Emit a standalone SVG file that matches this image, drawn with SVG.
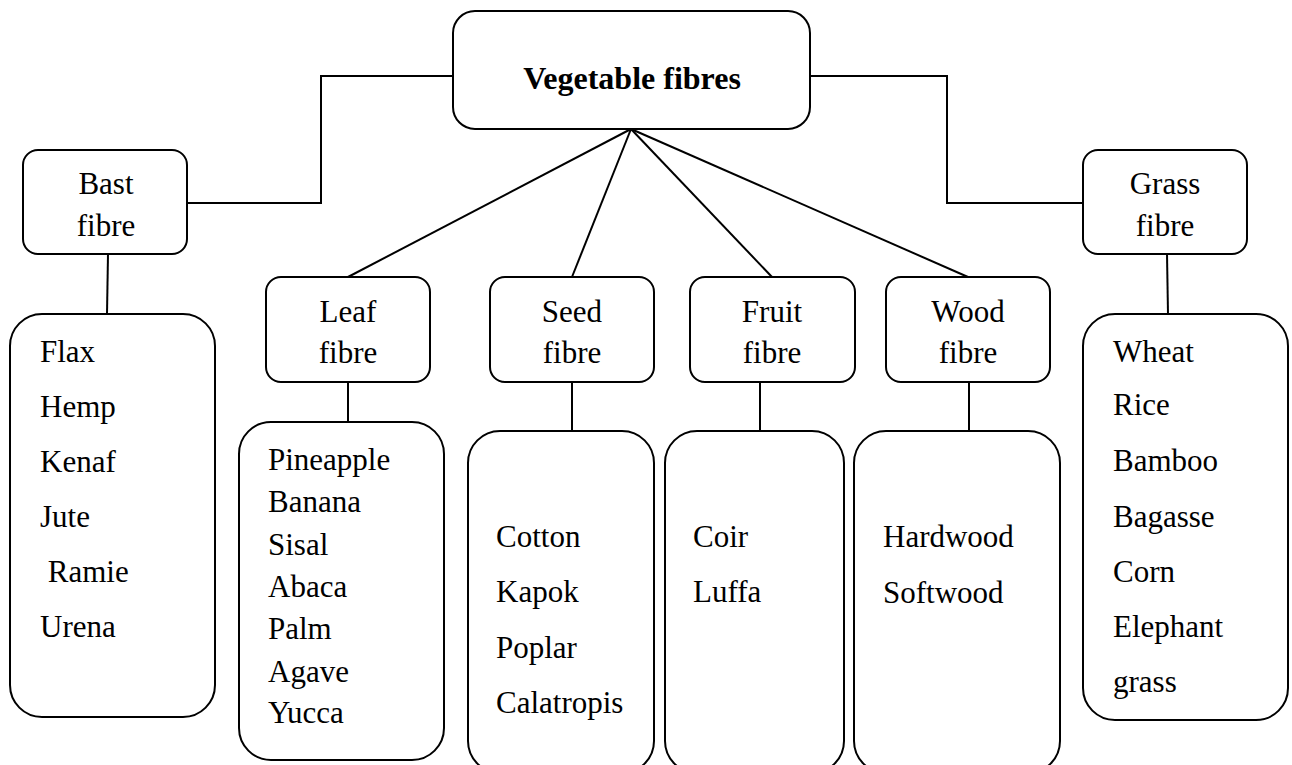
<svg xmlns="http://www.w3.org/2000/svg" width="1292" height="765" viewBox="0 0 1292 765">
<style>
.box{fill:#fff;stroke:#000;stroke-width:2}
.ln{fill:none;stroke:#000;stroke-width:2}
text{font-family:"Liberation Serif","Times New Roman",serif;font-size:31px;fill:#000}
.c{text-anchor:middle}
.b{font-weight:bold;font-size:32px}
</style>
<rect width="1292" height="765" fill="#fff"/>
<g id="connectors">
<polyline class="ln" points="453,76 321,76 321,203 187,203"/>
<polyline class="ln" points="810,76 947,76 947,203 1083,203"/>
<line class="ln" x1="631" y1="129" x2="348" y2="277"/>
<line class="ln" x1="631" y1="129" x2="572" y2="277"/>
<line class="ln" x1="631" y1="129" x2="772" y2="277"/>
<line class="ln" x1="631" y1="129" x2="968" y2="277"/>
<line class="ln" x1="108" y1="254" x2="107" y2="314"/>
<line class="ln" x1="1167" y1="254" x2="1168" y2="314"/>
<line class="ln" x1="348" y1="382" x2="348" y2="422"/>
<line class="ln" x1="572" y1="382" x2="572" y2="431"/>
<line class="ln" x1="760" y1="382" x2="760" y2="431"/>
<line class="ln" x1="969" y1="382" x2="969" y2="431"/>
</g>
<g id="root">
<rect class="box" x="453" y="11" width="357" height="118" rx="22"/>
<text class="c b" x="632" y="89">Vegetable fibres</text>
</g>
<g id="bast">
<rect class="box" x="23" y="150" width="164" height="104" rx="15"/>
<text class="c" x="106" y="194">Bast</text>
<text class="c" x="106" y="236">fibre</text>
</g>
<g id="grass">
<rect class="box" x="1083" y="150" width="164" height="104" rx="15"/>
<text class="c" x="1165" y="194">Grass</text>
<text class="c" x="1165" y="236">fibre</text>
</g>
<g id="leaf">
<rect class="box" x="266" y="277" width="164" height="105" rx="15"/>
<text class="c" x="348" y="322">Leaf</text>
<text class="c" x="348" y="363">fibre</text>
</g>
<g id="seed">
<rect class="box" x="490" y="277" width="164" height="105" rx="15"/>
<text class="c" x="572" y="322">Seed</text>
<text class="c" x="572" y="363">fibre</text>
</g>
<g id="fruit">
<rect class="box" x="690" y="277" width="165" height="105" rx="15"/>
<text class="c" x="772" y="322">Fruit</text>
<text class="c" x="772" y="363">fibre</text>
</g>
<g id="wood">
<rect class="box" x="886" y="277" width="164" height="105" rx="15"/>
<text class="c" x="968" y="322">Wood</text>
<text class="c" x="968" y="363">fibre</text>
</g>
<g id="bast-list">
<rect class="box" x="10" y="314" width="205" height="403" rx="32"/>
<text x="40" y="362">Flax</text>
<text x="40" y="417">Hemp</text>
<text x="40" y="472">Kenaf</text>
<text x="40" y="527">Jute</text>
<text x="40" y="582" xml:space="preserve"> Ramie</text>
<text x="40" y="637">Urena</text>
</g>
<g id="leaf-list">
<rect class="box" x="239" y="422" width="205" height="338" rx="32"/>
<text x="268" y="470">Pineapple</text>
<text x="268" y="512">Banana</text>
<text x="268" y="555">Sisal</text>
<text x="268" y="597">Abaca</text>
<text x="268" y="639">Palm</text>
<text x="268" y="682">Agave</text>
<text x="268" y="723">Yucca</text>
</g>
<g id="seed-list">
<rect class="box" x="468" y="431" width="186" height="342" rx="32"/>
<text x="496" y="547">Cotton</text>
<text x="496" y="602">Kapok</text>
<text x="496" y="658">Poplar</text>
<text x="496" y="713">Calatropis</text>
</g>
<g id="fruit-list">
<rect class="box" x="665" y="431" width="179" height="342" rx="32"/>
<text x="693" y="547">Coir</text>
<text x="693" y="602">Luffa</text>
</g>
<g id="wood-list">
<rect class="box" x="854" y="431" width="206" height="342" rx="32"/>
<text x="883" y="547">Hardwood</text>
<text x="883" y="603">Softwood</text>
</g>
<g id="grass-list">
<rect class="box" x="1083" y="314" width="205" height="406" rx="32"/>
<text x="1113" y="362">Wheat</text>
<text x="1113" y="415">Rice</text>
<text x="1113" y="471">Bamboo</text>
<text x="1113" y="527">Bagasse</text>
<text x="1113" y="582">Corn</text>
<text x="1113" y="637">Elephant</text>
<text x="1113" y="692">grass</text>
</g>
</svg>
